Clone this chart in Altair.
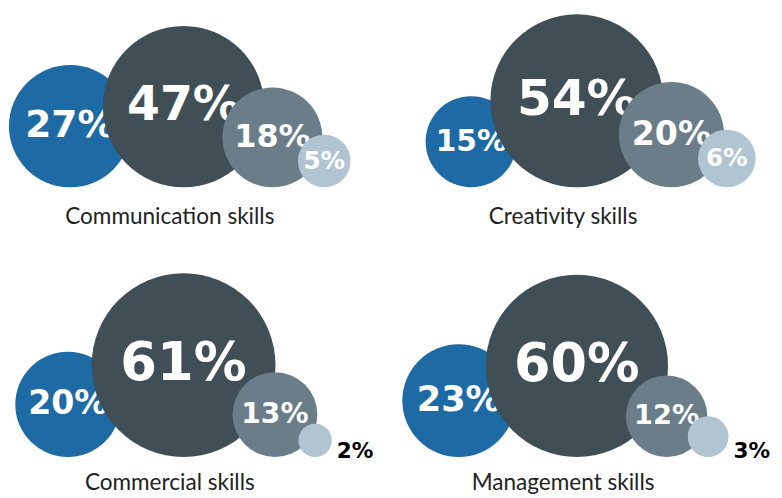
import math
import pandas as pd
import altair as alt

# ---- data ----
categories = ["Communication skills", "Creativity skills", "Commercial skills", "Management skills"]
blue_vals = [27, 15, 20, 23]
dark_vals = [47, 54, 61, 60]
gray_vals = [18, 20, 13, 12]
light_vals = [5, 6, 2, 3]

# ---- styling / layout constants ----
colors = ["#1d6aa5", "#404e56", "#6a7d89", "#b1c4d1"]
R_UNIT = 12.0                  # radius = R_UNIT * sqrt(value)  (area proportional)
col_x = [0, 401]
base_y = [186, 461]
title_y = [223, 495]
title_cx = 166
anchor_dark = 180
gap_k = [0.8, 0.68, 0.68]

series = [blue_vals, dark_vals, gray_vals, light_vals]
rows = []
for p, cat in enumerate(categories):
    col, row = p % 2, p // 2
    vals = [s[p] for s in series]
    rs = [R_UNIT * math.sqrt(v) for v in vals]
    cxs = [0.0] * 4
    cxs[1] = anchor_dark
    cxs[0] = cxs[1] - gap_k[0] * (rs[0] + rs[1])
    cxs[2] = cxs[1] + gap_k[1] * (rs[1] + rs[2])
    cxs[3] = cxs[2] + gap_k[2] * (rs[2] + rs[3])
    for k in range(4):
        v, r = vals[k], rs[k]
        cx = col_x[col] + cxs[k]
        cy = base_y[row] - r
        inside = v >= 4
        if inside:
            fs = max(25.0, 0.5 * r + 7)
            tx = cx
            ty = cy - 0.04 * r + 0.36 * fs
        else:
            fs = 22.0
            tx = cx + r + 5
            ty = base_y[row] + 1
        rows.append(dict(panel=cat, rank=k, value=v, cx=cx, cy=cy,
                         color=colors[k], label=f"{v}%", tx=tx, ty=ty, fs=fs,
                         inside=inside))
df = pd.DataFrame(rows)

tdf = pd.DataFrame({
    "cat": categories,
    "x": [col_x[i % 2] + title_cx for i in range(4)],
    "y": [title_y[i // 2] for i in range(4)],
})

xs = alt.Scale(domain=[8, 782], nice=False, zero=False)
ys = alt.Scale(domain=[498, 8], nice=False, zero=False)
# Vega circle symbol: radius = sqrt(size)/2  ->  size = (2r)^2 = 4 * R_UNIT^2 * value
size_scale = alt.Scale(type="linear", domain=[0, 100],
                       range=[0, 4 * R_UNIT ** 2 * 100])

base = alt.Chart(df)
layers = []
for k in range(4):
    layers.append(
        base.transform_filter(alt.datum.rank == k).mark_circle(opacity=1, strokeWidth=0).encode(
            x=alt.X("cx:Q", scale=xs, axis=None),
            y=alt.Y("cy:Q", scale=ys, axis=None),
            size=alt.Size("value:Q", scale=size_scale, legend=None),
            fill=alt.Fill("color:N", scale=None),
        )
    )
    layers.append(
        base.transform_filter((alt.datum.rank == k) & (alt.datum.inside == True)).mark_text(
            font="DejaVu Sans", fontWeight="bold", color="white",
            align="center", baseline="alphabetic"
        ).encode(
            x=alt.X("tx:Q", scale=xs, axis=None),
            y=alt.Y("ty:Q", scale=ys, axis=None),
            text="label:N",
            size=alt.Size("fs:Q", scale=None),
        )
    )

layers.append(
    base.transform_filter(alt.datum.inside == False).mark_text(
        font="DejaVu Sans", fontWeight="bold", color="black",
        align="left", baseline="alphabetic"
    ).encode(
        x=alt.X("tx:Q", scale=xs, axis=None),
        y=alt.Y("ty:Q", scale=ys, axis=None),
        text="label:N",
        size=alt.Size("fs:Q", scale=None),
    )
)

layers.append(
    alt.Chart(tdf).mark_text(
        font="Lato", fontSize=23, color="#222222", align="center", baseline="alphabetic"
    ).encode(
        x=alt.X("x:Q", scale=xs, axis=None),
        y=alt.Y("y:Q", scale=ys, axis=None),
        text="cat:N",
    )
)

chart = alt.layer(*layers).properties(
    width=774, height=490, padding=0, background="white"
).configure_view(stroke=None, strokeWidth=0)

chart.save("out.html", embed_options={"renderer": "svg", "actions": False})
